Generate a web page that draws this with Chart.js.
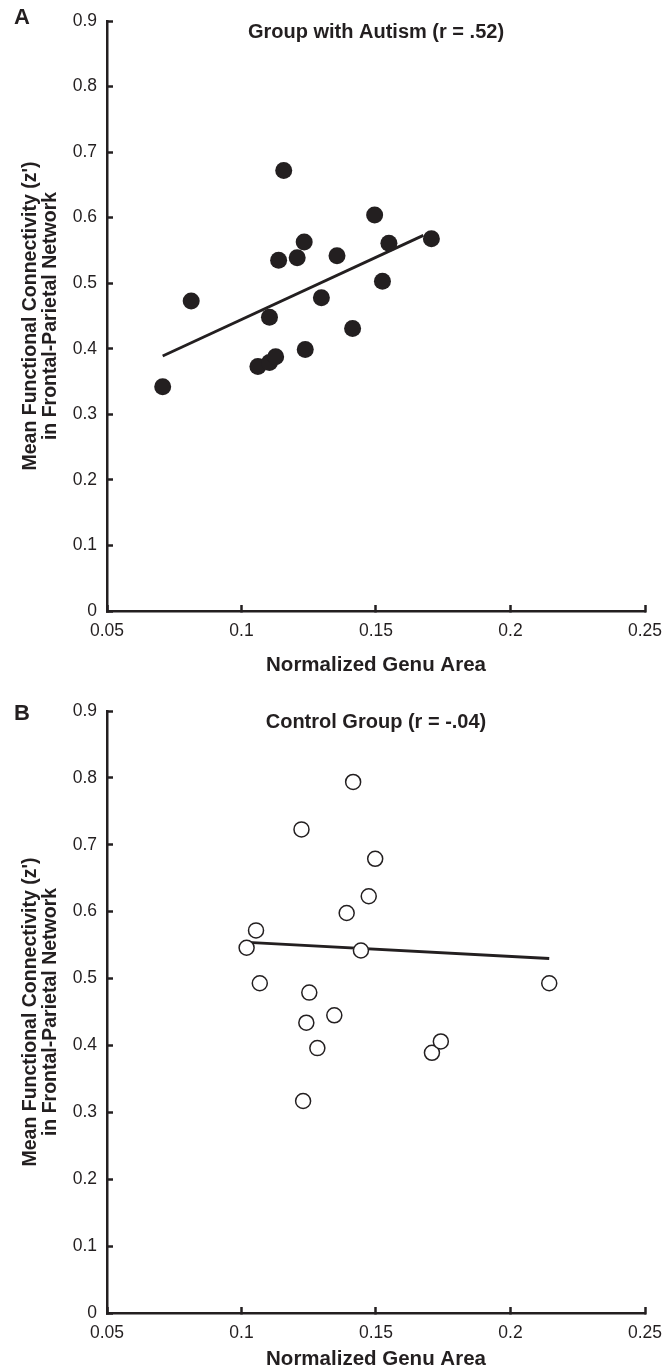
<!DOCTYPE html>
<html>
<head>
<meta charset="utf-8">
<script src="https://cdn.jsdelivr.net/npm/chart.js@4.4.1/dist/chart.umd.min.js"></script>
<style>
  html, body { margin: 0; padding: 0; background: #fff; }
  #wrap { position: relative; width: 664px; height: 1370px; }
  .panel { position: absolute; left: 0; width: 664px; }
</style>
</head>
<body>
<div id="wrap">
  <div class="panel" style="top:0;height:690px"><canvas id="chartA"></canvas></div>
  <div class="panel" style="top:690px;height:680px"><canvas id="chartB"></canvas></div>
</div>
<script>
// Panel A - group with autism
var autismX = [0.0707, 0.0813, 0.1061, 0.1104, 0.1127, 0.1104, 0.1138, 0.1157, 0.1207, 0.1233, 0.1237, 0.1297, 0.1355, 0.1413, 0.1495, 0.1524, 0.1548, 0.1706];
var autismY = [0.342, 0.473, 0.373, 0.379, 0.388, 0.448, 0.535, 0.672, 0.539, 0.563, 0.399, 0.478, 0.542, 0.431, 0.604, 0.503, 0.561, 0.568];
var autismFitX = [0.0707, 0.1676];
var autismFitY = [0.389, 0.573];

// Panel B - control group
var controlX = [0.1019, 0.1054, 0.1068, 0.1223, 0.1229, 0.1241, 0.1252, 0.1282, 0.1345, 0.1391, 0.1415, 0.1444, 0.1473, 0.1497, 0.1708, 0.1741, 0.2144];
var controlY = [0.546, 0.572, 0.493, 0.723, 0.317, 0.434, 0.479, 0.396, 0.445, 0.598, 0.794, 0.542, 0.623, 0.679, 0.389, 0.406, 0.493];
var controlFitX = [0.1024, 0.2144];
var controlFitY = [0.554, 0.530];

var xTicks = [0.05, 0.1, 0.15, 0.2, 0.25];
var yTicks = [0, 0.1, 0.2, 0.3, 0.4, 0.5, 0.6, 0.7, 0.8, 0.9];

var ink = '#231f20';
var fontFam = '"Liberation Sans", Arial, sans-serif';

function toPoints(xs, ys) {
    return xs.map(function(x, i) { return { x: x, y: ys[i] }; });
}

// draws the panel letter and the in-axes title
var panelText = {
    id: 'panelText',
    afterDraw: function(chart, args, opts) {
        var ctx = chart.ctx, area = chart.chartArea;
        ctx.save();
        ctx.fillStyle = ink;
        ctx.textBaseline = 'middle';
        ctx.font = 'bold 22px ' + fontFam;
        ctx.textAlign = 'left';
        ctx.fillText(opts.letter, 14, opts.letterY);
        ctx.font = 'bold 20px ' + fontFam;
        ctx.textAlign = 'center';
        ctx.fillText(opts.title, (area.left + area.right) / 2, area.top + 11);
        ctx.restore();
    }
};

function makeChart(id, cfg) {
    var ctx = document.getElementById(id).getContext('2d');
    return new Chart(ctx, {
        type: 'scatter',
        data: {
            datasets: [{
                label: 'subjects',
                data: toPoints(cfg.xs, cfg.ys),
                pointRadius: cfg.radius,
                pointBackgroundColor: cfg.fill,
                pointBorderColor: ink,
                pointBorderWidth: cfg.border,
                showLine: false,
                order: 1
            }, {
                label: 'fit',
                data: toPoints(cfg.fitX, cfg.fitY),
                showLine: true,
                pointRadius: 0,
                borderColor: ink,
                borderWidth: 2.8,
                order: 2
            }]
        },
        options: {
            responsive: true,
            maintainAspectRatio: false,
            animation: false,
            layout: { padding: { top: cfg.top, right: 19, left: 0, bottom: 0 } },
            plugins: {
                legend: { display: false },
                tooltip: { enabled: false },
                panelText: { letter: cfg.letter, letterY: cfg.letterY, title: cfg.title }
            },
            scales: {
                x: {
                    type: 'linear',
                    min: 0.05,
                    max: 0.25,
                    afterBuildTicks: function(s) { s.ticks = xTicks.map(function(v) { return { value: v }; }); },
                    afterFit: function(s) { s.height = cfg.xAxisH; s.paddingLeft = 0; s.paddingRight = 0; },
                    border: { color: ink, width: 2.5 },
                    grid: { drawOnChartArea: false, tickLength: -6, tickWidth: 2.5, tickColor: ink },
                    ticks: {
                        padding: 16,
                        color: ink,
                        font: { family: fontFam, size: 17.5 },
                        callback: function(v) { return String(parseFloat(v.toFixed(2))); }
                    },
                    title: {
                        display: true,
                        text: 'Normalized Genu Area',
                        color: ink,
                        font: { family: fontFam, size: 20.5, weight: 'bold' },
                        padding: { top: 0, bottom: cfg.xTitlePad }
                    }
                },
                y: {
                    type: 'linear',
                    min: 0,
                    max: 0.9,
                    afterBuildTicks: function(s) { s.ticks = yTicks.map(function(v) { return { value: v }; }); },
                    afterFit: function(s) { s.width = 107; s.paddingTop = 0; s.paddingBottom = 0; },
                    border: { color: ink, width: 2.5 },
                    grid: { drawOnChartArea: false, tickLength: -6, tickWidth: 2.5, tickColor: ink },
                    ticks: {
                        padding: 16,
                        color: ink,
                        font: { family: fontFam, size: 17.5 },
                        callback: function(v) { return String(parseFloat(v.toFixed(2))); }
                    },
                    title: {
                        display: true,
                        text: ["Mean Functional Connectivity (z')", 'in Frontal-Parietal Network'],
                        color: ink,
                        font: { family: fontFam, size: 19.5, weight: 'bold', lineHeight: 1.05 },
                        padding: { top: 20, bottom: 0 }
                    }
                }
            }
        },
        plugins: [panelText]
    });
}

makeChart('chartA', {
    xs: autismX, ys: autismY, fitX: autismFitX, fitY: autismFitY,
    radius: 8.5, fill: ink, border: 0,
    top: 21, xAxisH: 79, xTitlePad: 12,
    letter: 'A', letterY: 18, title: 'Group with Autism (r = .52)'
});

makeChart('chartB', {
    xs: controlX, ys: controlY, fitX: controlFitX, fitY: controlFitY,
    radius: 7.5, fill: '#ffffff', border: 1.5,
    top: 21, xAxisH: 57, xTitlePad: -2,
    letter: 'B', letterY: 24, title: 'Control Group (r = -.04)'
});
</script>
</body>
</html>
